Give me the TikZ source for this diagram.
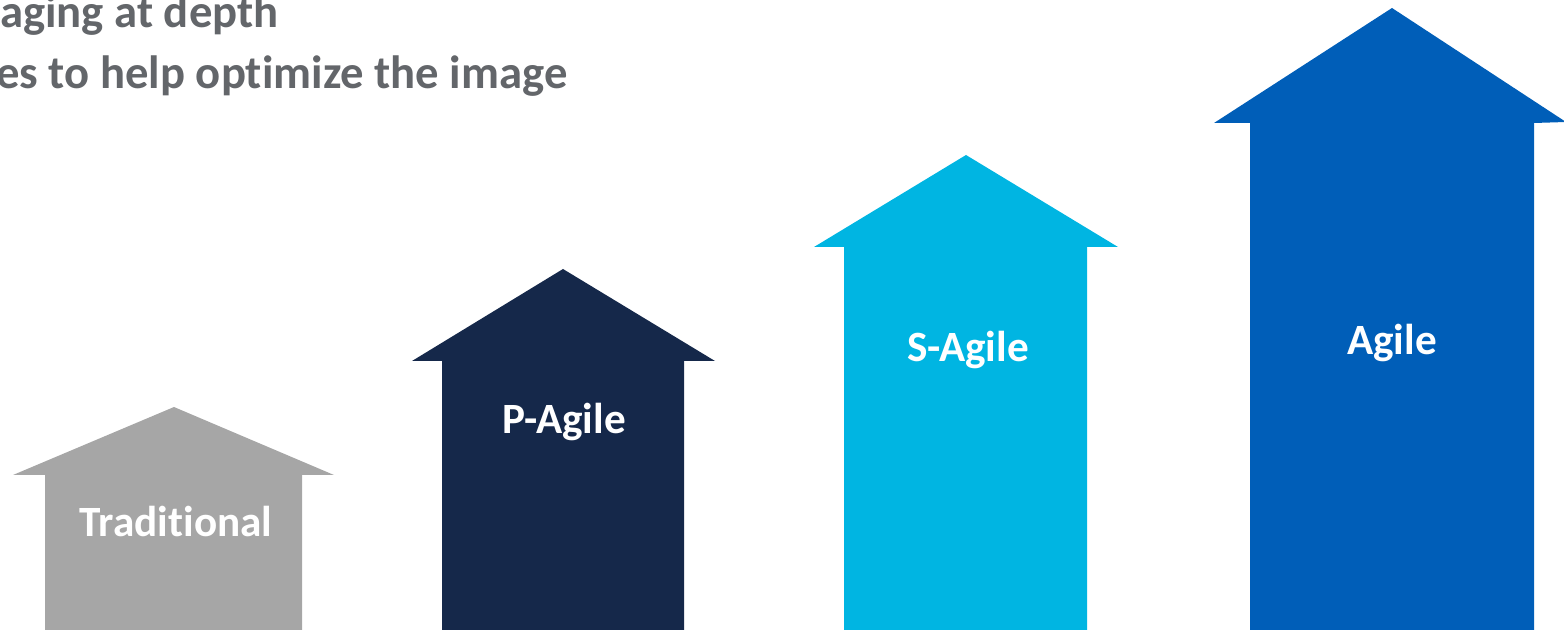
\documentclass[tikz,border=0pt]{standalone}
\usepackage{fontspec}
\setmainfont{Carlito}[Ligatures=NoCommon]
\definecolor{tradgray}{HTML}{A6A6A6}
\definecolor{pnavy}{HTML}{15284A}
\definecolor{scyan}{HTML}{00B5E2}
\definecolor{agblue}{HTML}{005EB8}
\definecolor{headgray}{HTML}{63666A}
\tikzset{
  arrowlabel/.style={inner sep=0.75pt, text=white, font=\bfseries\fontsize{32.4}{38}\selectfont},
  headline/.style={anchor=base west, inner sep=0pt, text=headgray, font=\bfseries\fontsize{35}{40}\selectfont}
}
\begin{document}
\begin{tikzpicture}[x=0.75pt,y=0.75pt,yscale=-1,xscale=1]
\useasboundingbox (0,0) rectangle (1564,630);
\clip (0,0) rectangle (1564,630);

%Shape: Up Arrow [Traditional]
\fill [tradgray] (174,407) -- (334,475) -- (302,475) -- (302,632) -- (45,632) -- (45,475) -- (13,475) -- cycle;
%Shape: Up Arrow [P-Agile]
\fill [pnavy] (563,269) -- (715,361) -- (684,361) -- (684,632) -- (442,632) -- (442,361) -- (412,361) -- cycle;
%Shape: Up Arrow [S-Agile]
\fill [scyan] (966,155) -- (1118,247) -- (1087,247) -- (1087,632) -- (844,632) -- (844,247) -- (814,247) -- cycle;
%Shape: Up Arrow [Agile]
\fill [agblue] (1392,8) -- (1566,122) -- (1534,123) -- (1534,632) -- (1250,632) -- (1250,123) -- (1214,123) -- cycle;

% Text Node
\draw (176,522) node [arrowlabel] (trad) {Traditional};
% Text Node
\draw (564,422) node [arrowlabel] (pagile) {P-Agile};
% Text Node
\draw (968,350) node [arrowlabel] (sagile) {S-Agile};
% Text Node
\draw (1392,343) node [arrowlabel] (agile) {Agile};

% Text Node
\draw (0,28) node [headline] (headone) {aging at depth};
% Text Node
\draw (-4,89) node [headline] (headtwo) {es to help optimize the image};
\end{tikzpicture}
\end{document}
